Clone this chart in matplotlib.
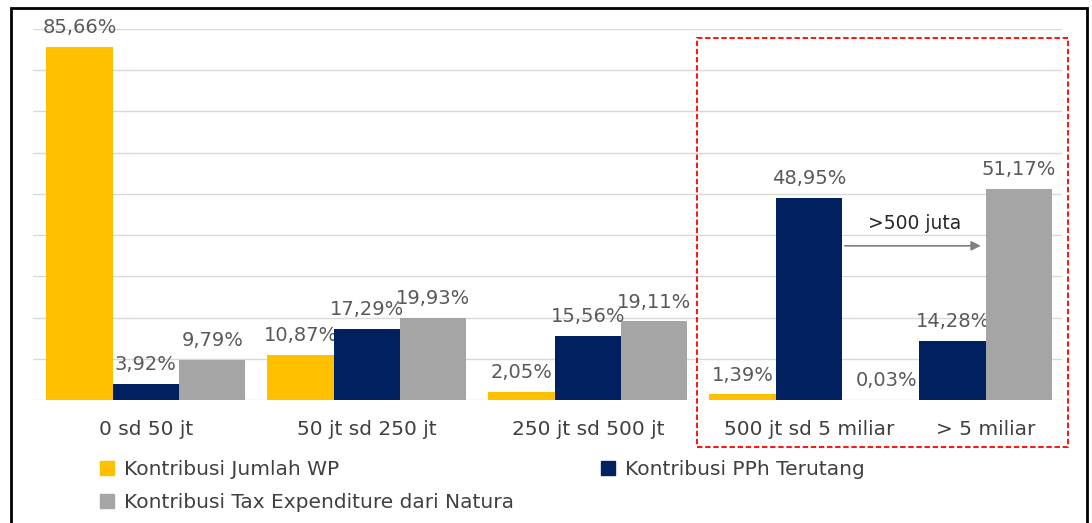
import numpy as np
import matplotlib
matplotlib.use("Agg")
import matplotlib.pyplot as plt
from matplotlib.patches import Rectangle, Patch

# data
categories = ["0 sd 50 jt", "50 jt sd 250 jt", "250 jt sd 500 jt", "500 jt sd 5 miliar", "> 5 miliar"]
jumlah_wp = [85.66, 10.87, 2.05, 1.39, 0.03]
pph_terutang = [3.92, 17.29, 15.56, 48.95, 14.28]
tax_exp = [9.79, 19.93, 19.11, None, 51.17]
series_names = ["Kontribusi Jumlah WP", "Kontribusi PPh Terutang",
                "Kontribusi Tax Expenditure dari Natura"]
arrow_text = ">500 juta"

# layout of the groups (last group squeezed into the 4th group's gap)
group_pos = [0, 1, 2, 3, 3.65]
label_pos = [0, 1, 2, 3, 3.8]
colors = ["#FFC000", "#002060", "#A5A5A5"]
w = 0.30

fig = plt.figure(figsize=(10.92, 5.23), dpi=100)
ax = fig.add_axes([33 / 1092, 1 - 400 / 523, (1062 - 33) / 1092, 371 / 523])

def fmt(v):
    return ("%.2f%%" % v).replace(".", ",")

for k, vals in enumerate([jumlah_wp, pph_terutang, tax_exp]):
    xs, hs = [], []
    for g, v in zip(group_pos, vals):
        if v is None:
            continue
        xs.append(g + (k - 1) * w)
        hs.append(v)
    bars = ax.bar(xs, hs, width=w, color=colors[k], zorder=3)
    for b, v in zip(bars, hs):
        ax.annotate(fmt(v), (b.get_x() + b.get_width() / 2, v),
                    xytext=(0, 7), textcoords="offset points",
                    ha="center", va="bottom", fontsize=14, color="#595959",
                    annotation_clip=False)

ax.set_xlim(-0.511, 4.145)
ax.set_ylim(0, 90)
ax.set_yticks(np.arange(0, 91, 10))
ax.yaxis.grid(True, color="#D9D9D9", lw=1, zorder=0)
ax.tick_params(axis="y", left=False, labelleft=False)
ax.set_xticks(label_pos)
ax.set_xticklabels(categories, fontsize=14.5, color="#404040")
ax.tick_params(axis="x", bottom=False, pad=11)
for s in ax.spines.values():
    s.set_visible(False)

# arrow between the >500 juta bars
ax.annotate("", xy=(group_pos[4] + w / 2 - 0.01, 37.4), xytext=(group_pos[3] + w / 2, 37.4),
            arrowprops=dict(arrowstyle="-|>", color="#7F7F7F", lw=1.2, mutation_scale=14))
ax.text(3.48, 40.5, arrow_text, ha="center", va="bottom", fontsize=13.5, color="#262626")

# legend
handles = [Patch(color=c) for c in colors]
order = [0, 2, 1]
fig.legend([handles[i] for i in order], [series_names[i] for i in order],
           loc="upper left", bbox_to_anchor=(92 / 1092, 1 - 452 / 523), ncol=2,
           frameon=False, fontsize=14.5, labelcolor="#404040",
           handlelength=0.7, handleheight=0.7, handletextpad=0.5,
           columnspacing=4.3, labelspacing=0.7, borderaxespad=0)

# outer frame and red highlight box
fig.add_artist(Rectangle((11 / 1092, -0.05), (1087 - 11) / 1092, 1.05 - 8 / 523,
                         transform=fig.transFigure, fill=False, ec="black", lw=2))
fig.add_artist(Rectangle((697 / 1092, 1 - 447 / 523), (1068 - 697) / 1092, (447 - 38) / 523,
                         transform=fig.transFigure, fill=False, ec="#FF0000", lw=1.3,
                         ls=(0, (3, 1.5))))

fig.savefig("out.png", dpi=100)
